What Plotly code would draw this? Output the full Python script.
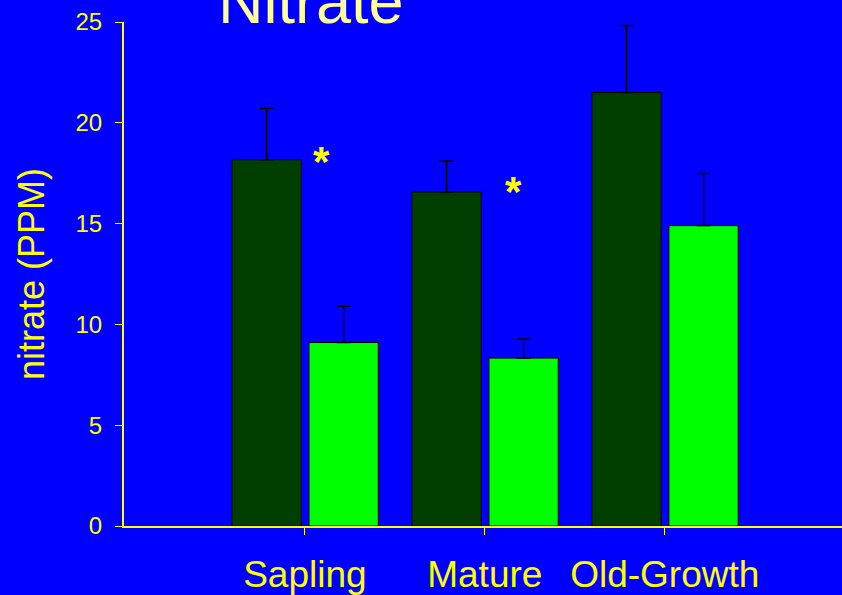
import plotly.graph_objects as go

stands = ["Sapling", "Mature", "Old-Growth"]
dark_vals = [18.17, 16.57, 21.5]
dark_err = [2.55, 1.53, 3.33]
light_vals = [9.1, 8.33, 14.9]
light_err = [1.8, 0.95, 2.59]
star_x = [0.09, 1.16]
star_y = [18.3, 16.8]
yticks = [0, 5, 10, 15, 20, 25]

pos = list(range(len(stands)))

fig = go.Figure()
fig.add_trace(go.Bar(
    x=pos, y=dark_vals, width=0.385, offset=-0.405,
    marker=dict(color="#003F00", line=dict(color="black", width=1)),
    error_y=dict(type="data", array=dark_err, symmetric=False, arrayminus=[0] * 3,
                 color="black", thickness=1.5, width=7),
    showlegend=False))
fig.add_trace(go.Bar(
    x=pos, y=light_vals, width=0.385, offset=0.023,
    marker=dict(color="#00FF00", line=dict(color="black", width=1)),
    error_y=dict(type="data", array=light_err, symmetric=False, arrayminus=[0] * 3,
                 color="black", thickness=1.5, width=7),
    showlegend=False))

for sx, sy in zip(star_x, star_y):
    fig.add_annotation(x=sx, y=sy, text="<b>*</b>", showarrow=False,
                       font=dict(size=42, color="#FFFF00", family="Liberation Sans, Arial"),
                       yshift=-4)

# title, partly cut at the top like the slide
fig.add_annotation(text="Nitrate", xref="paper", yref="paper",
                   x=(311 - 124) / (842 - 124), y=1, xanchor="center",
                   yanchor="middle", yshift=21, showarrow=False,
                   font=dict(size=63, color="#FFFF99", family="Liberation Sans, Arial"))

fig.update_layout(
    width=842, height=595,
    paper_bgcolor="#0000FF", plot_bgcolor="#0000FF",
    margin=dict(l=124, r=0, t=22, b=67),
    font=dict(family="Liberation Sans, Arial", color="#FFFF00"),
    barmode="overlay",
)
fig.update_xaxes(
    range=[-1.005, 2.985], tickvals=pos, ticktext=stands,
    showgrid=False, zeroline=False,
    showline=True, linecolor="#FFFF00", linewidth=2,
    ticks="outside", ticklen=7, tickcolor="#FFFF00", tickwidth=1,
    ticklabelstandoff=8,
    tickfont=dict(size=37, color="#FFFF00"))
fig.update_yaxes(
    range=[0, 25], tickvals=yticks,
    showgrid=False, zeroline=False,
    showline=True, linecolor="#FFFF00", linewidth=2,
    ticks="outside", ticklen=7, tickcolor="#FFFF00", tickwidth=1,
    ticklabelstandoff=8,
    tickfont=dict(size=24, color="#FFFF00"),
    title=dict(text="nitrate (PPM)", font=dict(size=36, color="#FFFF00"), standoff=20))

fig.write_html("out.html", config={"displayModeBar": False},
               post_script="document.body.style.margin='0';")
